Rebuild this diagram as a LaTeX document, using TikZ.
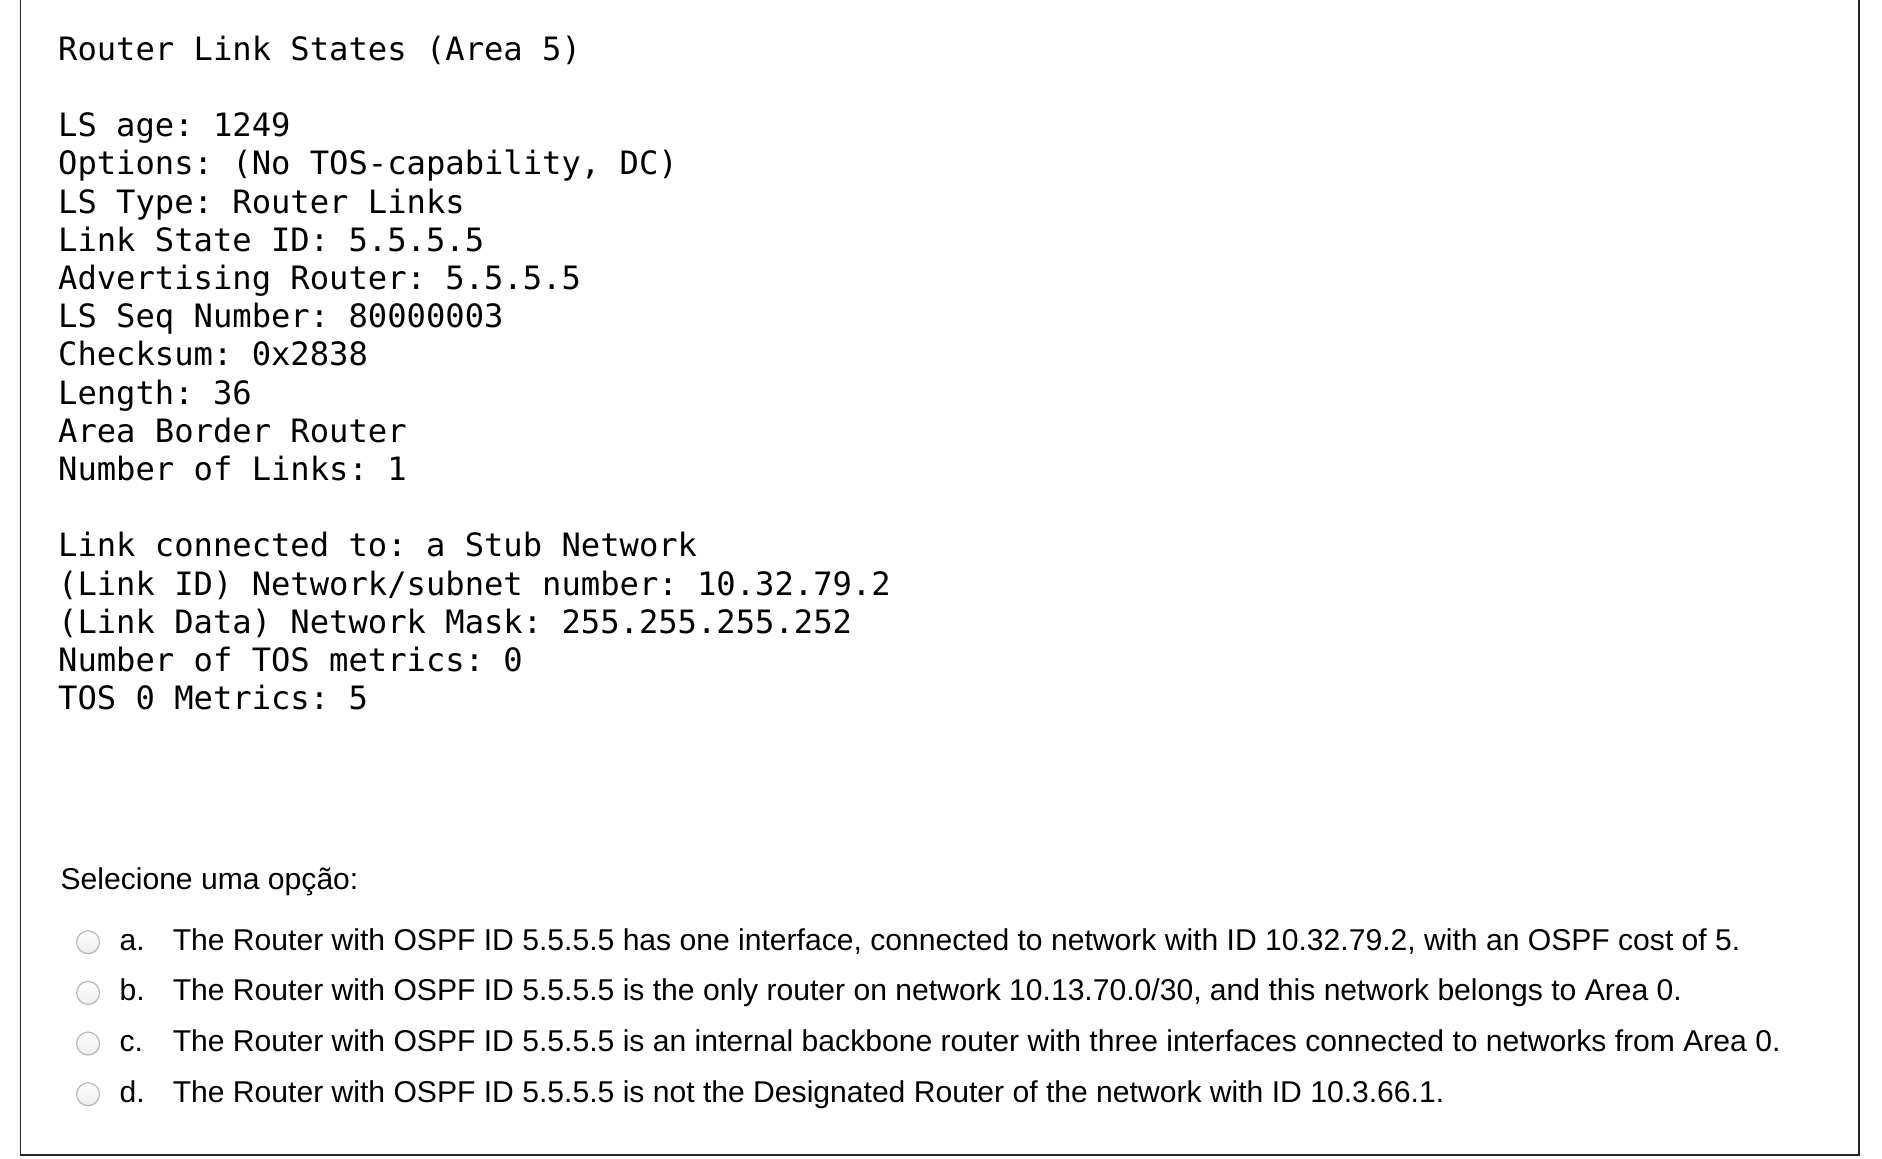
\documentclass[tikz,border=0pt]{standalone}
\usepackage{fontspec}
\usepackage{tikz}
\newfontfamily\lsafont{DejaVu Sans Mono}
\newfontfamily\quizfont{Liberation Sans}
\frenchspacing

\begin{document}
\begin{tikzpicture}[x=1pt, y=-1pt,
      every node/.style = {inner sep=0pt, anchor=base west},
      lsa/.style = {align=left, font=\lsafont\fontsize{26.66}{31.67}\selectfont},
      quiz/.style = {font=\quizfont\fontsize{24.95}{29}\selectfont},
      radio/.style = {shape=circle, draw=black!28, line width=1pt, top color=white,
                      bottom color=black!7, minimum size=19pt, anchor=center}]
    \useasboundingbox (0,0) rectangle (1560,960);
    \draw[line width=1.6pt, black!85] (17,-5) -- (17,957) -- (1541,957) -- (1541,-5);
    % the database output, placed by its last line
    \node[lsa] (lsdb) at (48,588.3) {Router Link States (Area 5)\\[31.67pt]
      LS age: 1249\\
      Options: (No TOS-capability, DC)\\
      LS Type: Router Links\\
      Link State ID: 5.5.5.5\\
      Advertising Router: 5.5.5.5\\
      LS Seq Number: 80000003\\
      Checksum: 0x2838\\
      Length: 36\\
      Area Border Router\\
      Number of Links: 1\\[31.67pt]
      Link connected to: a Stub Network\\
      (Link ID) Network/subnet number: 10.32.79.2\\
      (Link Data) Network Mask: 255.255.255.252\\
      Number of TOS metrics: 0\\
      TOS 0 Metrics: 5};
    % the question
    \node[quiz] (ask) at (50,737.5) {Selecione uma opção:};
    \foreach \k/\txt [count=\i] in {
        a/{The Router with OSPF ID 5.5.5.5 has one interface, connected to network with ID 10.32.79.2, with an OSPF cost of 5.},
        b/{The Router with OSPF ID 5.5.5.5 is the only router on network 10.13.70.0/30, and this network belongs to Area 0.},
        c/{The Router with OSPF ID 5.5.5.5 is an internal backbone router with three interfaces connected to networks from Area 0.},
        d/{The Router with OSPF ID 5.5.5.5 is not the Designated Router of the network with ID 10.3.66.1.}} {
      \node[radio] (radio-\k) at (73,739+42*\i) {};
      \node[quiz] (letter-\k) at (99,745.5+42*\i) {\k.};
      \node[quiz] (answer-\k) at (143,745.5+42*\i) {\txt};
    }
\end{tikzpicture}
\end{document}
